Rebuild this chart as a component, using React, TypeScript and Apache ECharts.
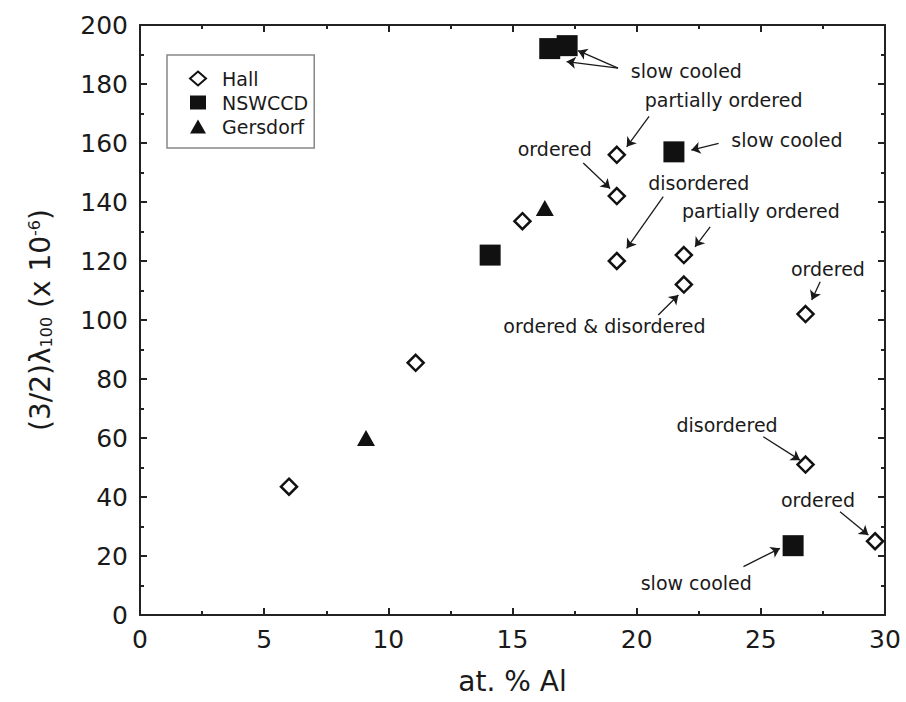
import React, { useEffect, useRef } from "react";
import * as echarts from "echarts";

const xTicks = [0, 5, 10, 15, 20, 25, 30];
const yTicks = [0, 20, 40, 60, 80, 100, 120, 140, 160, 180, 200];

const hallX = [6.0, 11.1, 15.4, 19.2, 19.2, 19.2, 21.9, 21.9, 26.8, 26.8, 29.6];
const hallY = [43.5, 85.5, 133.5, 156, 142, 120, 122, 112, 102, 51, 25];
const nswccdX = [16.5, 17.2, 21.5, 14.1, 26.3];
const nswccdY = [192, 193, 157, 122, 23.5];
const gersdorfX = [9.1, 16.3];
const gersdorfY = [60, 138];

const noteTexts = [
  "slow cooled",
  "partially ordered",
  "ordered",
  "slow cooled",
  "disordered",
  "partially ordered",
  "ordered & disordered",
  "ordered",
  "disordered",
  "ordered",
  "slow cooled",
];
const noteX = [22.0, 23.5, 16.7, 26.05, 22.5, 25.0, 18.7, 27.7, 23.64, 27.3, 22.4];
const noteY = [184.4, 174.6, 158, 161, 146.3, 137, 98, 117.2, 64.4, 39, 11];

const arrowStartX = [19.25, 19.25, 20.5, 17.85, 23.3, 21.07, 22.96, 20.87, 27.39, 25.1, 28.19, 24.3];
const arrowStartY = [185.4, 185.4, 169, 153.2, 159.9, 141.8, 131.6, 101.7, 113, 60.4, 35, 16.4];
const arrowEndX = [17.64, 17.18, 19.6, 18.93, 22.2, 19.6, 22.35, 21.68, 27.05, 26.58, 29.33, 25.77];
const arrowEndY = [191.3, 187.6, 158.7, 144.6, 157.6, 124.3, 124.8, 108.5, 106.8, 52.5, 27.1, 22.6];

const INK = "#1a1a1a";
const FONT = "DejaVu Sans";

function makeXAxis(bottom: boolean) {
  return {
    type: "value",
    min: xTicks[0],
    max: xTicks[xTicks.length - 1],
    interval: 5,
    position: bottom ? "bottom" : "top",
    name: bottom ? "at. % Al" : "",
    nameLocation: "middle",
    nameGap: 52,
    nameTextStyle: { fontSize: 28, color: INK, fontFamily: FONT },
    axisLine: { show: true, onZero: false, lineStyle: { color: "#222", width: 2 } },
    axisTick: { show: true, inside: true, length: 7, lineStyle: { color: "#222", width: 2 } },
    minorTick: { show: true, splitNumber: 2, length: 4, lineStyle: { color: "#222", width: 2 } },
    axisLabel: { show: bottom, fontSize: 25, color: INK, margin: 12, fontFamily: FONT },
    splitLine: { show: false },
  };
}

function makeYAxis(left: boolean) {
  return {
    type: "value",
    min: yTicks[0],
    max: yTicks[yTicks.length - 1],
    interval: 20,
    position: left ? "left" : "right",
    name: left ? "(3/2)λ{sub|100} (x 10{sup|-6})" : "",
    nameLocation: "middle",
    nameRotate: 90,
    nameGap: 86,
    nameTextStyle: {
      fontSize: 28,
      color: INK,
      fontFamily: FONT,
      rich: {
        sub: { fontSize: 16, verticalAlign: "bottom", color: INK, fontFamily: FONT },
        sup: { fontSize: 16, verticalAlign: "top", color: INK, fontFamily: FONT },
      },
    },
    axisLine: { show: true, onZero: false, lineStyle: { color: "#222", width: 2 } },
    axisTick: { show: true, inside: true, length: 7, lineStyle: { color: "#222", width: 2 } },
    minorTick: { show: true, splitNumber: 2, length: 4, lineStyle: { color: "#222", width: 2 } },
    axisLabel: { show: left, fontSize: 25, color: INK, margin: 12, fontFamily: FONT },
    splitLine: { show: false },
  };
}

export default function App() {
  const ref = useRef<HTMLDivElement>(null);
  useEffect(() => {
    document.body.style.margin = "0";
    if (!ref.current) return;
    const chart = echarts.init(ref.current, undefined, { renderer: "svg" });
    const option: any = {
      animation: false,
      backgroundColor: "#fff",
      textStyle: { fontFamily: FONT, color: INK },
      grid: { left: 140, right: 21, top: 25, bottom: 87 },
      legend: {
        left: 167,
        top: 55,
        orient: "vertical",
        data: ["Hall", "NSWCCD", "Gersdorf"],
        borderColor: "#888",
        borderWidth: 1.5,
        backgroundColor: "#fff",
        padding: [14, 6, 12, 22],
        itemWidth: 16,
        itemHeight: 14,
        itemGap: 5,
        textStyle: { fontSize: 19, color: INK, fontFamily: FONT, padding: [0, 0, 0, 11] },
      },
      xAxis: [makeXAxis(true), makeXAxis(false)],
      yAxis: [makeYAxis(true), makeYAxis(false)],
      series: [
        {
          name: "arrows",
          type: "lines",
          coordinateSystem: "cartesian2d",
          xAxisIndex: 0,
          yAxisIndex: 0,
          silent: true,
          symbol: ["none", "arrow"],
          symbolSize: 9,
          lineStyle: { color: INK, width: 1.3, opacity: 1, curveness: 0 },
          data: arrowStartX.map((sx, i) => ({
            coords: [
              [sx, arrowStartY[i]],
              [arrowEndX[i], arrowEndY[i]],
            ],
          })),
          z: 3,
        },
        {
          name: "notes",
          type: "scatter",
          xAxisIndex: 0,
          yAxisIndex: 0,
          silent: true,
          symbolSize: 1,
          itemStyle: { color: "rgba(0,0,0,0)", opacity: 1 },
          label: {
            show: true,
            position: "inside",
            formatter: "{b}",
            fontSize: 19,
            color: INK,
            opacity: 1,
            fontFamily: FONT,
          },
          data: noteTexts.map((t, i) => ({ name: t, value: [noteX[i], noteY[i]] })),
          z: 4,
        },
        {
          name: "Hall",
          type: "scatter",
          xAxisIndex: 0,
          yAxisIndex: 0,
          symbol: "diamond",
          symbolSize: 16,
          itemStyle: { color: "#fff", borderColor: "#111", borderWidth: 2.5, opacity: 1 },
          data: hallX.map((x, i) => [x, hallY[i]]),
          z: 5,
        },
        {
          name: "NSWCCD",
          type: "scatter",
          xAxisIndex: 0,
          yAxisIndex: 0,
          symbol: "rect",
          symbolSize: 21,
          itemStyle: { color: "#111", opacity: 1 },
          data: nswccdX.map((x, i) => [x, nswccdY[i]]),
          z: 5,
        },
        {
          name: "Gersdorf",
          type: "scatter",
          xAxisIndex: 0,
          yAxisIndex: 0,
          symbol: "triangle",
          symbolSize: [18, 16],
          itemStyle: { color: "#111", opacity: 1 },
          data: gersdorfX.map((x, i) => [x, gersdorfY[i]]),
          z: 5,
        },
      ],
    };
    chart.setOption(option);
    return () => chart.dispose();
  }, []);
  return (
    <div
      ref={ref}
      style={{ position: "absolute", left: 0, top: 0, width: 906, height: 702 }}
    />
  );
}
